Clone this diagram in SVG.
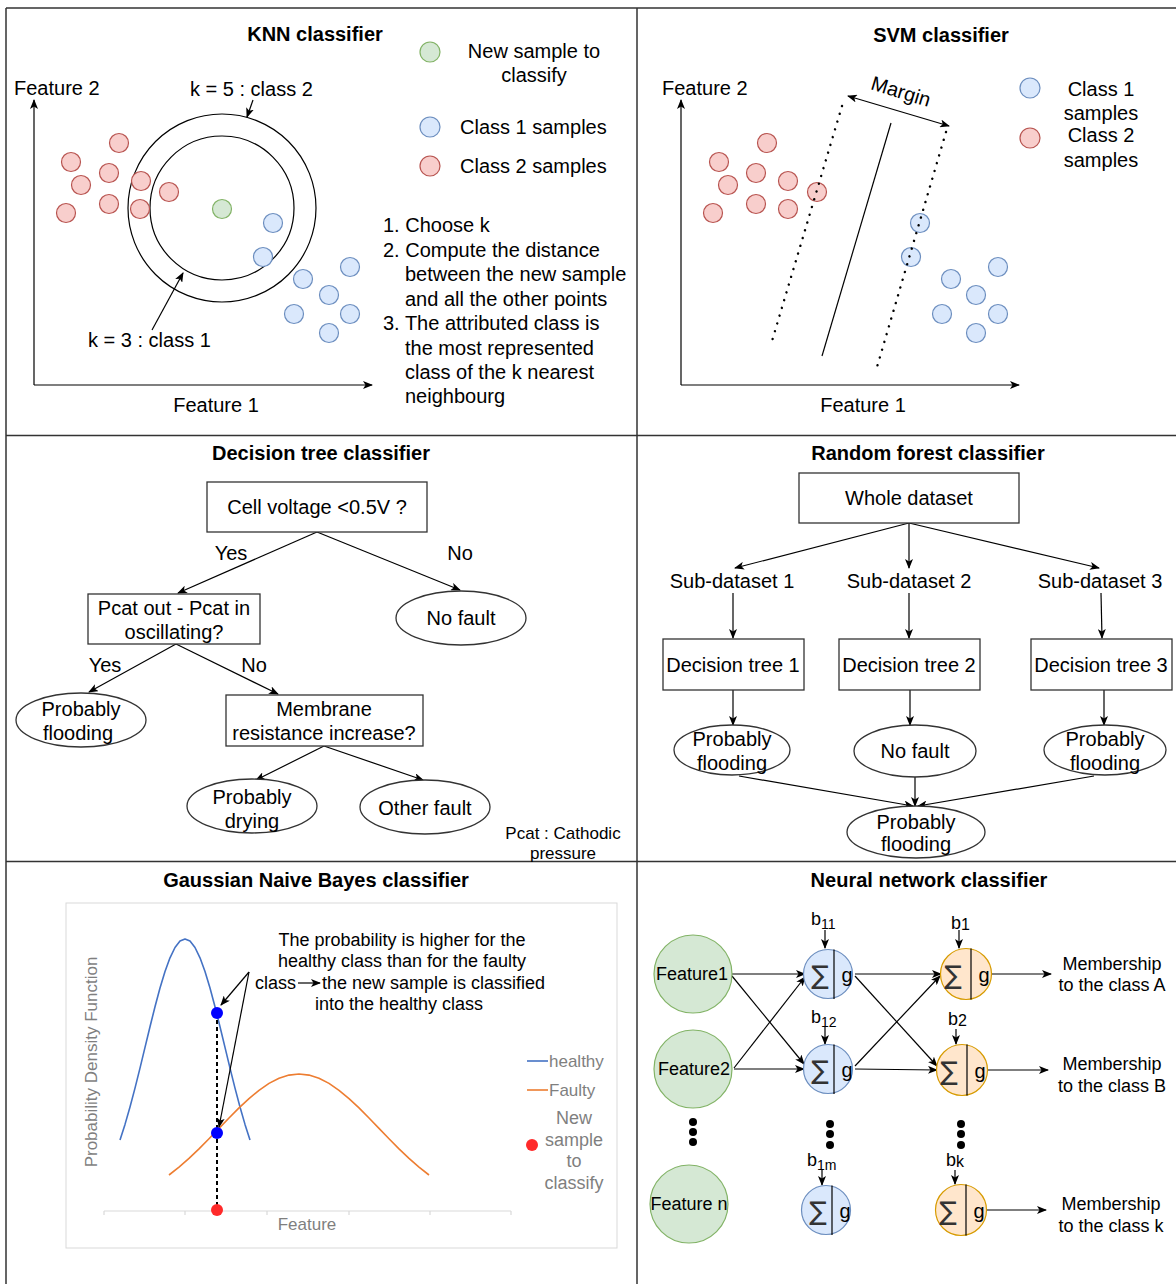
<svg xmlns="http://www.w3.org/2000/svg" width="1176" height="1284" viewBox="0 0 1176 1284">
<style>
text{font-family:"Liberation Sans",Arial,sans-serif;fill:#000}
.t20{font-size:20px}
.t18{font-size:18px}
.t17{font-size:17px}
.ttl{font-size:20px;font-weight:bold}
.mid{text-anchor:middle}
.gray{fill:#7f7f7f}
.red{fill:#f8cecc;stroke:#b85450;stroke-width:1.2}
.blue{fill:#dae8fc;stroke:#6c8ebf;stroke-width:1.2}
.green{fill:#d5e8d4;stroke:#82b366;stroke-width:1.2}
.orange{fill:#ffe6cc;stroke:#d79b00;stroke-width:1.2}
.box{fill:#fff;stroke:#333;stroke-width:1.3}
.ln{fill:none;stroke:#000;stroke-width:1.2}
.ar{fill:none;stroke:#000;stroke-width:1.2;marker-end:url(#arr)}
.dot{fill:none;stroke:#000;stroke-width:2.4;stroke-linecap:round;stroke-dasharray:0.1 8}
.sig{font-family:"DejaVu Sans",sans-serif;font-size:26px;fill:#333;text-anchor:middle}
.g{font-size:20px;text-anchor:middle}
</style>
<defs>
<marker id="arr" viewBox="0 0 10 8" refX="9" refY="4" markerWidth="10" markerHeight="8" markerUnits="userSpaceOnUse" orient="auto-start-reverse">
<path d="M0,0 L10,4 L0,8 L2.5,4 z" fill="#000"/>
</marker>
</defs>
<rect x="0" y="0" width="1176" height="1284" fill="#fff"/>

<!-- panel frame -->
<g id="frame" fill="none" stroke="#333" stroke-width="1.5">
<path d="M6,8 H1176 M6,8 V1284 M637,8 V1284 M6,435.5 H1176 M6,861.5 H1176"/>
</g>

<!-- KNN -->
<g id="knn">
<text class="ttl mid" x="315" y="41">KNN classifier</text>
<path class="ar" d="M34,385 V100"/>
<path class="ar" d="M34,385 H372"/>
<text class="t20" x="14" y="95">Feature 2</text>
<text class="t20 mid" x="216" y="412">Feature 1</text>
<circle cx="222" cy="208" r="94" class="ln"/>
<circle cx="222" cy="208" r="72" class="ln"/>
<g class="red">
<circle cx="119" cy="143" r="9.5"/><circle cx="71" cy="162" r="9.5"/><circle cx="109" cy="173" r="9.5"/>
<circle cx="81" cy="185" r="9.5"/><circle cx="141" cy="181" r="9.5"/><circle cx="169" cy="192" r="9.5"/>
<circle cx="66" cy="213" r="9.5"/><circle cx="109" cy="204" r="9.5"/><circle cx="140" cy="209" r="9.5"/>
</g>
<g class="blue">
<circle cx="273" cy="223" r="9.5"/><circle cx="263" cy="257" r="9.5"/><circle cx="303" cy="279" r="9.5"/>
<circle cx="350" cy="267" r="9.5"/><circle cx="329" cy="295" r="9.5"/><circle cx="294" cy="314" r="9.5"/>
<circle cx="350" cy="314" r="9.5"/><circle cx="329" cy="333" r="9.5"/>
</g>
<circle cx="222" cy="209" r="9.5" class="green"/>
<text class="t20" x="190" y="96">k = 5 : class 2</text>
<path class="ar" d="M253,100 L247,117"/>
<text class="t20" x="88" y="347">k = 3 : class 1</text>
<path class="ar" d="M152,330 L183,273"/>
<circle cx="430" cy="52" r="10" class="green"/>
<text class="t20 mid" x="534" y="58">New sample to</text>
<text class="t20 mid" x="534" y="82">classify</text>
<circle cx="430" cy="127" r="10" class="blue"/>
<text class="t20" x="460" y="134">Class 1 samples</text>
<circle cx="430" cy="166" r="10" class="red"/>
<text class="t20" x="460" y="173">Class 2 samples</text>
<text class="t20" x="383" y="232">1. Choose k</text>
<text class="t20" x="383" y="257">2. Compute the distance</text>
<text class="t20" x="405" y="281">between the new sample</text>
<text class="t20" x="405" y="306">and all the other points</text>
<text class="t20" x="383" y="330">3. The attributed class is</text>
<text class="t20" x="405" y="355">the most represented</text>
<text class="t20" x="405" y="379">class of the k nearest</text>
<text class="t20" x="405" y="403">neighbourg</text>
</g>

<!-- SVM -->
<g id="svm">
<text class="ttl mid" x="941" y="42">SVM classifier</text>
<path class="ar" d="M681,385 V100"/>
<path class="ar" d="M681,385 H1019"/>
<text class="t20" x="662" y="95">Feature 2</text>
<text class="t20 mid" x="863" y="412">Feature 1</text>
<g class="red">
<circle cx="767" cy="143" r="9.5"/><circle cx="719" cy="162" r="9.5"/><circle cx="756" cy="173" r="9.5"/>
<circle cx="728" cy="185" r="9.5"/><circle cx="788" cy="181" r="9.5"/><circle cx="817" cy="192" r="9.5"/>
<circle cx="713" cy="213" r="9.5"/><circle cx="756" cy="204" r="9.5"/><circle cx="788" cy="209" r="9.5"/>
</g>
<g class="blue">
<circle cx="920" cy="223" r="9.5"/><circle cx="911" cy="257" r="9.5"/><circle cx="951" cy="279" r="9.5"/>
<circle cx="998" cy="267" r="9.5"/><circle cx="976" cy="295" r="9.5"/><circle cx="942" cy="314" r="9.5"/>
<circle cx="998" cy="314" r="9.5"/><circle cx="976" cy="333" r="9.5"/>
</g>
<path class="ln" d="M891,123 L822,356" stroke-width="2"/>
<path class="dot" d="M842,106 L772,341"/>
<path class="dot" d="M946,132 L877,367"/>
<path class="ln" d="M848,96 L949,126" marker-start="url(#arr)" marker-end="url(#arr)"/>
<text class="t20 mid" transform="translate(899,98) rotate(17)">Margin</text>
<circle cx="1030" cy="88" r="10" class="blue"/>
<circle cx="1030" cy="138" r="10" class="red"/>
<text class="t20 mid" x="1101" y="96">Class 1</text>
<text class="t20 mid" x="1101" y="120">samples</text>
<text class="t20 mid" x="1101" y="142">Class 2</text>
<text class="t20 mid" x="1101" y="167">samples</text>
</g>

<!-- Decision tree -->
<g id="dtree">
<text class="ttl mid" x="321" y="460">Decision tree classifier</text>
<g id="dt-links">
<path class="ar" d="M317,532 L178,593"/>
<path class="ar" d="M317,532 L460,590"/>
<path class="ar" d="M176,644 L89,692"/>
<path class="ar" d="M176,644 L278,694"/>
<path class="ar" d="M324,746 L256,780"/>
<path class="ar" d="M324,746 L423,780"/>
<text class="t20 mid" x="231" y="560">Yes</text>
<text class="t20 mid" x="460" y="560">No</text>
<text class="t20 mid" x="105" y="672">Yes</text>
<text class="t20 mid" x="254" y="672">No</text>
</g>
<g id="dt-root"><rect class="box" x="207" y="482" width="220" height="50"/><text class="t20 mid" x="317" y="514">Cell voltage &lt;0.5V ?</text></g>
<g id="dt-pcat"><rect class="box" x="88" y="594" width="172" height="50"/><text class="t20 mid" x="174" y="615">Pcat out - Pcat in</text><text class="t20 mid" x="174" y="639">oscillating?</text></g>
<g id="dt-nofault"><ellipse class="box" cx="461" cy="618" rx="65" ry="27"/><text class="t20 mid" x="461" y="625">No fault</text></g>
<g id="dt-flood"><ellipse class="box" cx="81" cy="720" rx="65" ry="27"/><text class="t20 mid" x="81" y="716">Probably</text><text class="t20 mid" x="78" y="740">flooding</text></g>
<g id="dt-membrane"><rect class="box" x="226" y="695" width="197" height="51"/><text class="t20 mid" x="324" y="716">Membrane</text><text class="t20 mid" x="324" y="740">resistance increase?</text></g>
<g id="dt-drying"><ellipse class="box" cx="252" cy="806" rx="65" ry="27"/><text class="t20 mid" x="252" y="804">Probably</text><text class="t20 mid" x="252" y="828">drying</text></g>
<g id="dt-other"><ellipse class="box" cx="425" cy="807" rx="65" ry="27"/><text class="t20 mid" x="425" y="815">Other fault</text></g>
<text class="t17 mid" x="563" y="839">Pcat : Cathodic</text>
<text class="t17 mid" x="563" y="859">pressure</text>
</g>

<!-- Random forest -->
<g id="rforest">
<text class="ttl mid" x="928" y="460">Random forest classifier</text>
<g id="rf-links">
<path class="ar" d="M909,523 L735,568"/>
<path class="ar" d="M909,523 L909,568"/>
<path class="ar" d="M909,523 L1099,568"/>
<path class="ar" d="M733,593 L733,638"/>
<path class="ar" d="M909,593 L909,638"/>
<path class="ar" d="M1101,593 L1102,638"/>
<path class="ar" d="M733,690 L733,725"/>
<path class="ar" d="M910,690 L910,725"/>
<path class="ar" d="M1104,690 L1104,725"/>
<path class="ar" d="M739,776 L913,806"/>
<path class="ar" d="M915,777 L915,806"/>
<path class="ar" d="M1094,776 L918,806"/>
</g>
<g id="rf-whole"><rect class="box" x="799" y="473" width="220" height="50"/><text class="t20 mid" x="909" y="505">Whole dataset</text></g>
<text class="t20 mid" x="732" y="588">Sub-dataset 1</text>
<text class="t20 mid" x="909" y="588">Sub-dataset 2</text>
<text class="t20 mid" x="1100" y="588">Sub-dataset 3</text>
<g id="rf-dt1"><rect class="box" x="663" y="639" width="141" height="51"/><text class="t20 mid" x="733" y="672">Decision tree 1</text></g>
<g id="rf-dt2"><rect class="box" x="839" y="639" width="141" height="51"/><text class="t20 mid" x="909" y="672">Decision tree 2</text></g>
<g id="rf-dt3"><rect class="box" x="1031" y="639" width="141" height="51"/><text class="t20 mid" x="1101" y="672">Decision tree 3</text></g>
<g id="rf-r1"><ellipse class="box" cx="732" cy="750" rx="58" ry="25"/><text class="t20 mid" x="732" y="746">Probably</text><text class="t20 mid" x="732" y="770">flooding</text></g>
<g id="rf-r2"><ellipse class="box" cx="915" cy="751" rx="61" ry="26"/><text class="t20 mid" x="915" y="758">No fault</text></g>
<g id="rf-r3"><ellipse class="box" cx="1105" cy="750" rx="61" ry="25"/><text class="t20 mid" x="1105" y="746">Probably</text><text class="t20 mid" x="1105" y="770">flooding</text></g>
<g id="rf-final"><ellipse class="box" cx="916" cy="832" rx="69" ry="26"/><text class="t20 mid" x="916" y="829">Probably</text><text class="t20 mid" x="916" y="851">flooding</text></g>
</g>

<!-- Gaussian Naive Bayes -->
<g id="gnb">
<text class="ttl mid" x="316" y="887">Gaussian Naive Bayes classifier</text>
<rect x="66" y="903" width="551" height="345" fill="#fff" stroke="#d9d9d9" stroke-width="1"/>
<path d="M104,1211 H511 M104,1211 v4 M185,1211 v4 M267,1211 v4 M349,1211 v4 M430,1211 v4 M511,1211 v4" stroke="#d9d9d9" stroke-width="1.2" fill="none"/>
<text class="t17 mid gray" transform="translate(97,1062) rotate(-90)">Probability Density Function</text>
<text class="t17 mid gray" x="307" y="1230">Feature</text>
<polyline fill="none" stroke="#4472c4" stroke-width="1.6" stroke-linejoin="round" points="120,1140 125,1124.4 130,1107 135,1088.1 140,1068.1 145,1047.4 150,1026.7 155,1006.7 160,988 165,971.5 170,957.8 175,947.5 180,941.1 185,939 190,941.1 195,947.5 200,957.8 205,971.5 210,988 215,1006.7 220,1026.7 225,1047.4 230,1068.1 235,1088.1 240,1107 245,1124.4 250,1140"/>
<polyline fill="none" stroke="#ed7d31" stroke-width="1.6" stroke-linejoin="round" points="169,1175 179,1167.1 189,1158.4 199,1148.9 209,1138.8 219,1128.4 229,1118 239,1107.9 249,1098.6 259,1090.3 269,1083.4 279,1078.3 289,1075.1 299,1074 309,1075.1 319,1078.3 329,1083.4 339,1090.3 349,1098.6 359,1107.9 369,1118 379,1128.4 389,1138.8 399,1148.9 409,1158.4 419,1167.1 429,1175"/>
<path d="M217,1013 V1209" stroke="#000" stroke-width="2" stroke-dasharray="4 3" fill="none"/>
<circle cx="217" cy="1013" r="6" fill="#0000ff"/>
<circle cx="217" cy="1133" r="6" fill="#0000ff"/>
<circle cx="217" cy="1210" r="6" fill="#ff2a2a"/>
<text class="t18 mid" x="402" y="946">The probability is higher for the</text>
<text class="t18 mid" x="402" y="967">healthy class than for the faulty</text>
<text class="t18" x="255" y="989">class</text>
<path class="ar" d="M298,983 H320"/>
<text class="t18" x="322" y="989">the new sample is classified</text>
<text class="t18 mid" x="399" y="1010">into the healthy class</text>
<path class="ar" d="M249,972 L221,1005"/>
<path class="ar" d="M249,972 L219,1127"/>
<path d="M527,1061 H548" stroke="#4472c4" stroke-width="1.6"/>
<text class="t17 gray" x="549" y="1067">healthy</text>
<path d="M527,1090 H548" stroke="#ed7d31" stroke-width="1.6"/>
<text class="t17 gray" x="549" y="1096">Faulty</text>
<circle cx="532" cy="1145" r="6" fill="#ff2a2a"/>
<text class="t18 mid gray" x="574" y="1124">New</text>
<text class="t18 mid gray" x="574" y="1146">sample</text>
<text class="t18 mid gray" x="574" y="1167">to</text>
<text class="t18 mid gray" x="574" y="1189">classify</text>
</g>

<!-- Neural network -->
<g id="nn">
<text class="ttl mid" x="929" y="887">Neural network classifier</text>
<g id="nn-links">
<path class="ar" d="M732,974 L805,974"/>
<path class="ar" d="M732,976 L804,1064"/>
<path class="ar" d="M734,1068 L805,977"/>
<path class="ar" d="M734,1069 L804,1069"/>
<path class="ar" d="M855,974 L941,974"/>
<path class="ar" d="M855,976 L937,1066"/>
<path class="ar" d="M855,1066 L940,976"/>
<path class="ar" d="M855,1069 L937,1070"/>
<path class="ar" d="M991,974 L1051,974"/>
<path class="ar" d="M987,1070 L1048,1070"/>
<path class="ar" d="M986,1210 L1046,1210"/>
<path class="ar" d="M825,930 L825,948"/>
<path class="ar" d="M825,1027 L825,1044"/>
<path class="ar" d="M822,1170 L822,1185"/>
<path class="ar" d="M959,930 L959,948"/>
<path class="ar" d="M956,1029 L956,1044"/>
<path class="ar" d="M955,1170 L955,1184"/>
</g>
<g id="nn-f1"><circle class="green" cx="693" cy="974" r="39"/><text class="t18 mid" x="692" y="980">Feature1</text></g>
<g id="nn-f2"><circle class="green" cx="693" cy="1069" r="39"/><text class="t18 mid" x="694" y="1075">Feature2</text></g>
<g id="nn-fn"><circle class="green" cx="689" cy="1204" r="39"/><text class="t18 mid" x="689" y="1210">Feature n</text></g>
<g fill="#000">
<circle cx="693" cy="1122" r="4"/><circle cx="693" cy="1132" r="4"/><circle cx="693" cy="1142" r="4"/>
<circle cx="830" cy="1124" r="4"/><circle cx="830" cy="1134" r="4"/><circle cx="830" cy="1145" r="4"/>
<circle cx="961" cy="1124" r="4"/><circle cx="961" cy="1134" r="4"/><circle cx="961" cy="1145" r="4"/>
</g>
<g id="nn-h1"><circle class="blue" cx="828" cy="974" r="24.5"/><path class="ln" d="M834,949.5 V999"/><text class="sig" x="820" y="984">∑</text><text class="g" x="847" y="982">g</text></g>
<g id="nn-h2"><circle class="blue" cx="828" cy="1069" r="24.5"/><path class="ln" d="M834,1044.5 V1094"/><text class="sig" x="820" y="1079">∑</text><text class="g" x="847" y="1077">g</text></g>
<g id="nn-hm"><circle class="blue" cx="826" cy="1210" r="24.5"/><path class="ln" d="M832,1185.5 V1235"/><text class="sig" x="818" y="1220">∑</text><text class="g" x="845" y="1218">g</text></g>
<g id="nn-o1"><circle class="orange" cx="966" cy="974" r="25.5"/><path class="ln" d="M971,948.5 V999.5"/><text class="sig" x="953" y="984">∑</text><text class="g" x="984" y="982">g</text></g>
<g id="nn-o2"><circle class="orange" cx="962" cy="1070" r="25.5"/><path class="ln" d="M967,1044.5 V1095.5"/><text class="sig" x="949" y="1080">∑</text><text class="g" x="980" y="1078">g</text></g>
<g id="nn-ok"><circle class="orange" cx="961" cy="1210" r="25.5"/><path class="ln" d="M966,1184.5 V1235.5"/><text class="sig" x="948" y="1220">∑</text><text class="g" x="979" y="1218">g</text></g>
<text class="t18" x="811" y="925">b<tspan font-size="14" dy="4">11</tspan></text>
<text class="t18" x="811" y="1023">b<tspan font-size="14" dy="4">12</tspan></text>
<text class="t18" x="807" y="1166">b<tspan font-size="14" dy="4">1m</tspan></text>
<text class="t18" x="951" y="929">b<tspan font-size="16" dy="1">1</tspan></text>
<text class="t18" x="948" y="1025">b<tspan font-size="16" dy="1">2</tspan></text>
<text class="t18" x="946" y="1166">b<tspan font-size="16" dy="1">k</tspan></text>
<text class="t18 mid" x="1112" y="970">Membership</text>
<text class="t18 mid" x="1112" y="991">to the class A</text>
<text class="t18 mid" x="1112" y="1070">Membership</text>
<text class="t18 mid" x="1112" y="1092">to the class B</text>
<text class="t18 mid" x="1111" y="1210">Membership</text>
<text class="t18 mid" x="1111" y="1232">to the class k</text>
</g>
</svg>
